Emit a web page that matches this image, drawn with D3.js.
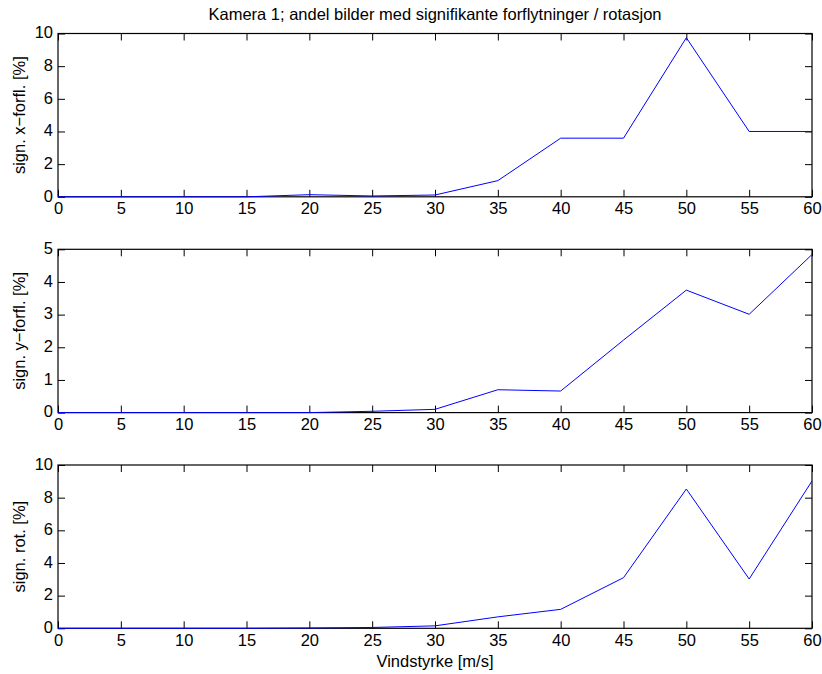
<!DOCTYPE html>
<html>
<head>
<meta charset="utf-8">
<script src="https://cdn.jsdelivr.net/npm/d3@7"></script>
<style>
  html, body { margin: 0; padding: 0; background: #fff; }
  svg { display: block; }
  text { font-family: "Liberation Sans", Arial, Helvetica, sans-serif; fill: #000; }
</style>
</head>
<body>
<script>
// Wind speed categories [m/s]
const windSpeed = [0, 5, 10, 15, 20, 25, 30, 35, 40, 45, 50, 55, 60];

// Share of images with significant movement [%]
const xShift   = [0, 0, 0, 0, 0.13, 0.05, 0.11, 0.99, 3.59, 3.59, 9.74, 4.0, 4.0];
const yShift   = [0, 0, 0, 0, 0.0, 0.04, 0.1, 0.7, 0.66, 2.22, 3.75, 3.01, 4.84];
const rotation = [0, 0, 0, 0, 0.02, 0.05, 0.15, 0.7, 1.16, 3.1, 8.53, 3.02, 9.02];

const xTicks = [0, 5, 10, 15, 20, 25, 30, 35, 40, 45, 50, 55, 60];
const yTicksA = [0, 2, 4, 6, 8, 10];
const yTicksB = [0, 1, 2, 3, 4, 5];

const titleText = "Kamera 1; andel bilder med signifikante forflytninger / rotasjon";
const xLabel = "Vindstyrke [m/s]";

const panels = [
  { values: xShift,   yMax: 10, ticks: yTicksA, label: "sign. x\u2212forfl. [%]", top: 33.5 },
  { values: yShift,   yMax: 5,  ticks: yTicksB, label: "sign. y\u2212forfl. [%]", top: 249.3 },
  { values: rotation, yMax: 10, ticks: yTicksA, label: "sign. rot. [%]",          top: 465 }
];

const W = 822, H = 674;
const left = 58, right = 812, panelH = 163.3;
const fontSize = 16.5;
const tickLen = 7;
const fmt = d3.format("d");

const svg = d3.select("body").append("svg").attr("width", W).attr("height", H);

const x = d3.scaleLinear().domain([0, 60]).range([left, right]);

panels.forEach(p => {
  const y = d3.scaleLinear().domain([0, p.yMax]).range([p.top + panelH, p.top]);
  const g = svg.append("g");

  // inward ticks on all four sides
  const axes = [
    d3.axisBottom(x).tickValues(xTicks).tickSizeInner(-tickLen).tickSizeOuter(0).tickFormat(fmt),
    d3.axisTop(x).tickValues(xTicks).tickSizeInner(-tickLen).tickSizeOuter(0).tickFormat(""),
    d3.axisLeft(y).tickValues(p.ticks).tickSizeInner(-tickLen).tickSizeOuter(0).tickFormat(fmt),
    d3.axisRight(y).tickValues(p.ticks).tickSizeInner(-tickLen).tickSizeOuter(0).tickFormat("")
  ];
  const translations = [
    `translate(0,${p.top + panelH})`,
    `translate(0,${p.top})`,
    `translate(${left},0)`,
    `translate(${right},0)`
  ];
  axes.forEach((ax, k) => {
    const a = g.append("g").attr("transform", translations[k]).call(ax);
    a.select(".domain").remove();
    a.selectAll(".tick line").attr("stroke", "#000").attr("stroke-width", 1);
    a.selectAll("text").attr("font-size", fontSize).style("font-family", '"Liberation Sans", Arial, sans-serif').attr("fill", "#000");
    if (k === 0) a.selectAll("text").attr("dy", null).attr("y", 13).attr("dominant-baseline", "middle");
    if (k === 2) a.selectAll("text").attr("dy", null).attr("x", -5).attr("dominant-baseline", "middle");
  });

  // axes box
  g.append("rect")
    .attr("x", left).attr("y", p.top)
    .attr("width", right - left).attr("height", panelH)
    .attr("fill", "none").attr("stroke", "#000").attr("stroke-width", 1.2);

  // data line, drawn over the box
  const line = d3.line().x((d, i) => x(windSpeed[i])).y(d => y(d));
  g.append("path")
    .datum(p.values)
    .attr("d", line)
    .attr("fill", "none")
    .attr("stroke", "#0000ff")
    .attr("stroke-width", 1);

  // y label
  g.append("text")
    .attr("transform", `translate(25,${p.top + panelH / 2}) rotate(-90)`)
    .attr("text-anchor", "middle")
    .attr("font-size", fontSize)
    .text(p.label);
});

svg.append("text")
  .attr("x", (left + right) / 2).attr("y", 20)
  .attr("text-anchor", "middle")
  .attr("font-size", fontSize)
  .text(titleText);

svg.append("text")
  .attr("x", (left + right) / 2).attr("y", 667)
  .attr("text-anchor", "middle")
  .attr("font-size", fontSize)
  .text(xLabel);
</script>
</body>
</html>
